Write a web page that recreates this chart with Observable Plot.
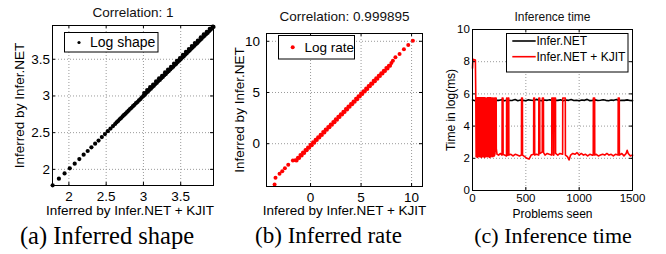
<!DOCTYPE html>
<html><head><meta charset="utf-8">
<script src="https://cdn.jsdelivr.net/npm/d3@7"></script>
<script src="https://cdn.jsdelivr.net/npm/@observablehq/plot@0.6"></script>
<style>
body{margin:0;background:#fff;}
#fig{position:relative;width:666px;height:254px;overflow:hidden;background:#fff;}
#fig svg.panel{position:absolute;top:0;}
.legend{position:absolute;top:0;left:0;}
</style></head><body><div id="fig"></div>
<script>
// ---------- Panel (a): inferred shape ----------
const shapeKjit = [1.782,1.866,1.942,2.012,2.078,2.140,2.198,2.252,2.302,2.352,2.398,2.442,2.484,2.522,2.558,2.592,
  2.62,2.64,2.66,2.68,2.70,2.72,2.74,2.76,2.78,2.80,2.82,2.84,2.86,2.88,2.90,2.92,2.94,2.96,2.98,3.00,3.02,3.04,3.06,3.08,3.10,3.12,3.14,3.16,3.18,3.20,3.22,3.24,3.26,3.28,3.30,3.32,3.34,3.36,3.38,3.40,3.42,3.44,3.46,3.48,3.50,3.52,3.54,3.56,3.58,3.60,3.62,3.64,3.66,3.68,3.70,3.72,3.74,3.76,3.78,3.80,3.82,3.84,3.86,3.88,3.90,3.92,3.94,
  3.01,3.05,3.09,3.13,3.17,3.21,3.25,3.29,3.33,3.37,3.41,3.45,3.49,3.53,3.57,3.61,3.65,3.69,3.73,3.77,3.81,3.85,3.89,3.93];
const shapeInferNet = [1.782,1.873,1.945,2.014,2.078,2.140,2.200,2.250,2.300,2.350,2.392,2.440,2.480,2.520,2.556,2.590,
  2.618,2.641,2.659,2.682,2.698,2.721,2.742,2.758,2.781,2.799,2.822,2.838,2.861,2.879,2.902,2.918,2.941,2.958,2.982,3.001,3.018,3.043,3.058,3.082,3.099,3.121,3.138,3.162,3.179,3.203,3.218,3.242,3.259,3.283,3.298,3.322,3.339,3.361,3.382,3.398,3.423,3.438,3.462,3.481,3.499,3.523,3.538,3.562,3.579,3.603,3.618,3.642,3.659,3.681,3.702,3.718,3.741,3.762,3.778,3.803,3.819,3.842,3.858,3.881,3.902,3.919,3.940,
  3.040,3.080,3.120,3.155,3.200,3.240,3.275,3.320,3.360,3.395,3.440,3.480,3.515,3.560,3.600,3.640,3.680,3.720,3.755,3.800,3.840,3.875,3.915,3.945];
const shapeTicks = [2, 2.5, 3, 3.5];

// ---------- Panel (b): inferred rate ----------
const rateKjit = [-3.56,-3.47,-3.07,-2.80,-2.54,-2.21,-1.75,
  -1.5,-1.25,-1.0,-0.75,-0.5,-0.25,0,0.25,0.5,0.75,1.0,1.25,1.5,1.75,2.0,2.25,2.5,2.75,3.0,3.25,3.5,3.75,4.0,4.25,4.5,4.75,5.0,5.25,5.5,5.75,6.0,6.25,6.5,6.75,7.0,7.25,7.5,7.75,8.0,
  -1.38,-1.13,-0.88,-0.63,-0.38,-0.13,0.12,0.37,0.62,0.87,1.12,1.37,1.62,1.87,2.12,2.37,2.62,2.87,3.12,3.37,3.62,3.87,4.12,4.37,4.62,4.87,5.12,5.37,5.62,5.87,6.12,6.37,6.62,6.87,7.12,7.37,7.62,7.87,
  8.15,8.40,8.81,9.24,9.67,10.13];
const rateInferNet = [-3.99,-3.33,-2.94,-2.69,-2.39,-2.06,-1.64,
  -1.62,-1.37,-1.11,-0.87,-0.62,-0.38,-0.11,0.13,0.38,0.64,0.88,1.13,1.38,1.64,1.88,2.13,2.39,2.63,2.88,3.13,3.38,3.64,3.88,4.13,4.38,4.63,4.89,5.13,5.38,5.63,5.88,6.14,6.38,6.63,6.88,7.13,7.38,7.62,7.88,
  -1.65,-1.40,-1.15,-0.90,-0.65,-0.40,-0.15,0.10,0.35,0.60,0.85,1.10,1.35,1.60,1.85,2.10,2.35,2.60,2.85,3.10,3.35,3.60,3.85,4.10,4.35,4.60,4.85,5.10,5.35,5.60,5.85,6.10,6.35,6.60,6.85,7.10,7.35,7.60,
  8.10,8.43,8.75,9.21,9.64,10.06];
const rateTicks = [0, 5, 10];

// ---------- Panel (c): inference time ----------
const inferNetProblems = [0,25,50,75,100,125,150,175,200,225,250,275,300,325,350,375,400,425,450,475,500,525,550,575,600,625,650,675,700,725,750,775,800,825,850,875,900,925,950,975,1000,1025,1050,1075,1100,1125,1150,1175,1200,1225,1250,1275,1300,1325,1350,1375,1400,1425,1450,1475,1500];
const inferNetTime = [5.62,5.58,5.65,5.60,5.57,5.63,5.60,5.66,5.58,5.61,5.60,5.64,5.57,5.62,5.59,5.60,5.65,5.58,5.62,5.60,5.57,5.63,5.61,5.59,5.66,5.60,5.58,5.62,5.60,5.64,5.57,5.61,5.60,5.63,5.58,5.62,5.60,5.65,5.59,5.61,5.57,5.62,5.60,5.66,5.58,5.60,5.63,5.59,5.61,5.64,5.60,5.57,5.62,5.60,5.65,5.58,5.61,5.60,5.63,5.59,5.58];
const kjitProblems = [0,4,27,31,
  34,37,40,43,46,49,52,55,58,61,64,67,70,73,76,79,82,85,88,91,94,97,100,103,106,109,112,115,118,121,124,
  133,135,138,141,144,147,150,153,156,159,162,165,168,171,174,177,
  179,185,186,190,191,199,200,204,205,211,212,222,223,230,245,260,277,278,286,287,300,319,320,324,325,333,334,340,341,360,380,400,420,440,459,460,468,469,490,510,530,550,573,574,582,583,600,621,622,630,631,645,654,655,665,666,680,700,720,743,744,758,759,763,764,778,779,800,820,845,846,870,871,890,905,920,940,960,980,1000,1020,1040,1060,1080,1100,1120,1132,1133,1145,1146,1160,1180,1200,1220,1240,1260,1280,1300,1320,1340,1365,1366,1376,1377,1400,1420,1440,1450,1460,1480,1500];
const kjitTime = [7.6,8.15,8.1,5.75,
  2.1,5.75,2.15,5.75,2.05,5.75,2.1,5.75,2.2,5.75,2.1,5.75,2.15,5.75,2.1,5.75,2.05,5.75,2.2,5.75,2.1,5.75,2.15,5.75,2.1,5.75,2.05,5.75,2.15,5.75,2.1,
  2.15,5.75,2.1,5.75,2.2,5.75,2.1,5.75,2.15,5.75,2.05,5.75,2.2,5.75,2.1,5.75,
  2.2,2.15,5.75,5.75,2.1,2.2,5.75,5.75,2.15,2.3,5.75,5.75,2.6,2.25,2.2,2.3,2.2,5.75,5.75,2.25,2.2,2.15,5.75,5.75,2.2,2.2,5.75,5.75,2.2,2.25,2.15,2.25,2.2,2.15,2.2,5.75,5.75,2.2,2.1,2.0,1.95,2.2,2.25,5.75,5.75,2.2,2.25,2.2,5.75,5.75,2.3,2.35,2.4,5.75,5.75,2.35,2.2,2.3,2.25,2.2,5.75,5.75,2.2,2.2,5.75,5.75,2.3,2.2,2.3,2.25,5.75,5.75,2.2,2.1,1.9,2.2,2.3,2.25,2.35,2.2,2.3,2.2,2.25,2.15,2.25,2.2,2.2,5.75,5.75,2.2,2.25,2.15,2.2,2.25,2.2,2.3,2.2,2.25,2.15,2.25,2.2,5.75,5.75,2.2,2.3,2.15,2.3,2.5,2.3,2.15,2.2];
const timeXTicks = [0, 500, 1000, 1500];
const timeYTicks = [0, 2, 4, 6, 8, 10];

const shapeData = shapeKjit.map((x, i) => ({x, y: shapeInferNet[i]}));
const rateData = rateKjit.map((x, i) => ({x, y: rateInferNet[i]}));
const inferNetData = inferNetProblems.map((x, i) => ({x, y: inferNetTime[i]}));
const kjitData = kjitProblems.map((x, i) => ({x, y: kjitTime[i]}));

const W = 222, H = 254;
const SANS = "Liberation Sans, Arial, Helvetica, sans-serif";
const SERIF = "Liberation Serif, Times New Roman, serif";

function panel(c) {
  const iw = W - c.mL - c.mR, ih = H - c.mT - c.mB;
  const grid = {stroke: "#9a9a9a", strokeOpacity: 1, strokeDasharray: "1,2", strokeWidth: 1};
  const cx = c.mL + iw / 2;
  const mid = {textAnchor: "middle", lineAnchor: "middle"};
  return Plot.plot({
    width: W, height: H,
    marginLeft: c.mL, marginRight: c.mR, marginTop: c.mT, marginBottom: c.mB,
    x: {domain: c.xDomain}, y: {domain: c.yDomain},
    style: {fontFamily: SANS, fontSize: "13px", color: "#000", background: "transparent", overflow: "visible"},
    marks: [
      Plot.gridX(c.xTicks, grid),
      Plot.gridY(c.yTicks, grid),
      ...c.marks,
      Plot.frame({stroke: "#000", strokeWidth: 1}),
      Plot.tickX(c.xTicks, {x: d => d, insetTop: ih - 3, stroke: "#000"}),
      Plot.tickX(c.xTicks, {x: d => d, insetBottom: ih - 3, stroke: "#000"}),
      Plot.tickY(c.yTicks, {y: d => d, insetRight: iw - 3, stroke: "#000"}),
      Plot.tickY(c.yTicks, {y: d => d, insetLeft: iw - 3, stroke: "#000"}),
      Plot.axisX({ticks: c.xTicks, tickSize: 0, tickPadding: c.xPad, fontSize: c.tickFs, label: null, tickFormat: d => String(d)}),
      Plot.axisY({ticks: c.yTicks, tickSize: 0, tickPadding: c.yPad, fontSize: c.tickFs, label: null, tickFormat: d => String(d)}),
      Plot.text([c.title], {...mid, text: d => d, frameAnchor: "top", dy: c.titleDy, fontSize: c.labelFs, fill: "#111"}),
      Plot.text([c.xLabel], {...mid, text: d => d, frameAnchor: "bottom", dx: c.xLabelDx || 0, dy: c.xLabelDy, fontSize: c.labelFs}),
      Plot.text([c.yLabel], {...mid, text: d => d, frameAnchor: "left", rotate: -90, dx: c.yLabelDx, fontSize: c.labelFs}),
      Plot.text([c.caption], {...mid, text: d => d, frameAnchor: "bottom", dx: c.capX - cx, dy: c.capDy, fontSize: c.capFs, fontFamily: SERIF})
    ]
  });
}

const fig = document.getElementById("fig");

const pa = panel({
  mL: 52, mR: 9, mT: 25, mB: 69,
  xDomain: [1.78, 3.94], yDomain: [1.78, 3.96],
  xTicks: shapeTicks, yTicks: shapeTicks,
  marks: [Plot.dot(shapeData, {x: "x", y: "y", r: 2.1, fill: "#000"})],
  tickFs: 13.5, labelFs: 13.5, xPad: 5.5, yPad: 2.4,
  title: "Correlation: 1", titleDy: -13.3,
  xLabel: "Inferred by Infer.NET + KJIT", xLabelDx: -3, xLabelDy: 25.3,
  yLabel: "Inferred by Infer.NET", yLabelDx: -33.3,
  caption: "(a) Inferred shape", capX: 106.5, capDy: 50.2, capFs: 24.5
});
const pb = panel({
  mL: 44, mR: 22, mT: 33, mB: 68,
  xDomain: [-4.36, 11.08], yDomain: [-4.18, 10.76],
  xTicks: rateTicks, yTicks: rateTicks,
  marks: [Plot.dot(rateData, {x: "x", y: "y", r: 2, fill: "#ff0000"})],
  tickFs: 13.5, labelFs: 13.5, xPad: 5.5, yPad: 6.5,
  title: "Correlation: 0.999895", titleDy: -16.8,
  xLabel: "Infered by Infer.NET + KJIT", xLabelDy: 24.4,
  yLabel: "Inferred by Infer.NET", yLabelDx: -26.9,
  caption: "(b) Inferred rate", capX: 106, capDy: 49.6, capFs: 23
});
const pc = panel({
  mL: 28, mR: 34, mT: 29, mB: 64,
  xDomain: [0, 1500], yDomain: [0, 10],
  xTicks: timeXTicks, yTicks: timeYTicks,
  marks: [
    Plot.line(inferNetData, {x: "x", y: "y", stroke: "#000", strokeWidth: 1.6}),
    Plot.line(kjitData, {x: "x", y: "y", stroke: "#ff0000", strokeWidth: 1.6})
  ],
  tickFs: 11.5, labelFs: 12, xPad: 3.3, yPad: 2.7,
  title: "Inference time", titleDy: -12.8,
  xLabel: "Problems seen", xLabelDy: 23.2,
  yLabel: "Time in log(ms)", yLabelDx: -21.2,
  caption: "(c) Inference time", capX: 108.5, capDy: 45.6, capFs: 22
});
[[pa, 0], [pb, 222], [pc, 444]].forEach(([svg, left]) => {
  svg.classList.add("panel");
  svg.style.left = left + "px";
  fig.appendChild(svg);
});

// ---------- Legends ----------
const NS = "http://www.w3.org/2000/svg";
const ov = document.createElementNS(NS, "svg");
ov.setAttribute("width", 666); ov.setAttribute("height", 254);
ov.setAttribute("class", "legend");
ov.style.fontFamily = SANS;
function el(tag, attrs, txt) {
  const e = document.createElementNS(NS, tag);
  for (const k in attrs) e.setAttribute(k, attrs[k]);
  if (txt) e.textContent = txt;
  ov.appendChild(e);
  return e;
}
// (a)
el("rect", {x: 64.5, y: 32.5, width: 93.5, height: 19.5, fill: "#fff", stroke: "#000", "stroke-width": 1});
el("circle", {cx: 79, cy: 42.5, r: 1.6, fill: "#000"});
el("text", {x: 90, y: 47.3, "font-size": 14}, "Log shape");
// (b)
el("rect", {x: 278.5, y: 35.5, width: 76, height: 23.5, fill: "#fff", stroke: "#000", "stroke-width": 1});
el("circle", {cx: 292.7, cy: 47.3, r: 2, fill: "#ff0000"});
el("text", {x: 304.5, y: 51.8, "font-size": 13.5}, "Log rate");
// (c)
el("rect", {x: 506.5, y: 33.5, width: 121.5, height: 38.5, fill: "#fff", stroke: "#000", "stroke-width": 1});
el("line", {x1: 512.3, x2: 535.7, y1: 41, y2: 41, stroke: "#000", "stroke-width": 1.6});
el("line", {x1: 512.3, x2: 535.7, y1: 56.7, y2: 56.7, stroke: "#ff0000", "stroke-width": 1.6});
el("text", {x: 536.5, y: 45.2, "font-size": 12}, "Infer.NET");
el("text", {x: 536.5, y: 61.3, "font-size": 12}, "Infer.NET + KJIT");
fig.appendChild(ov);
</script></body></html>
